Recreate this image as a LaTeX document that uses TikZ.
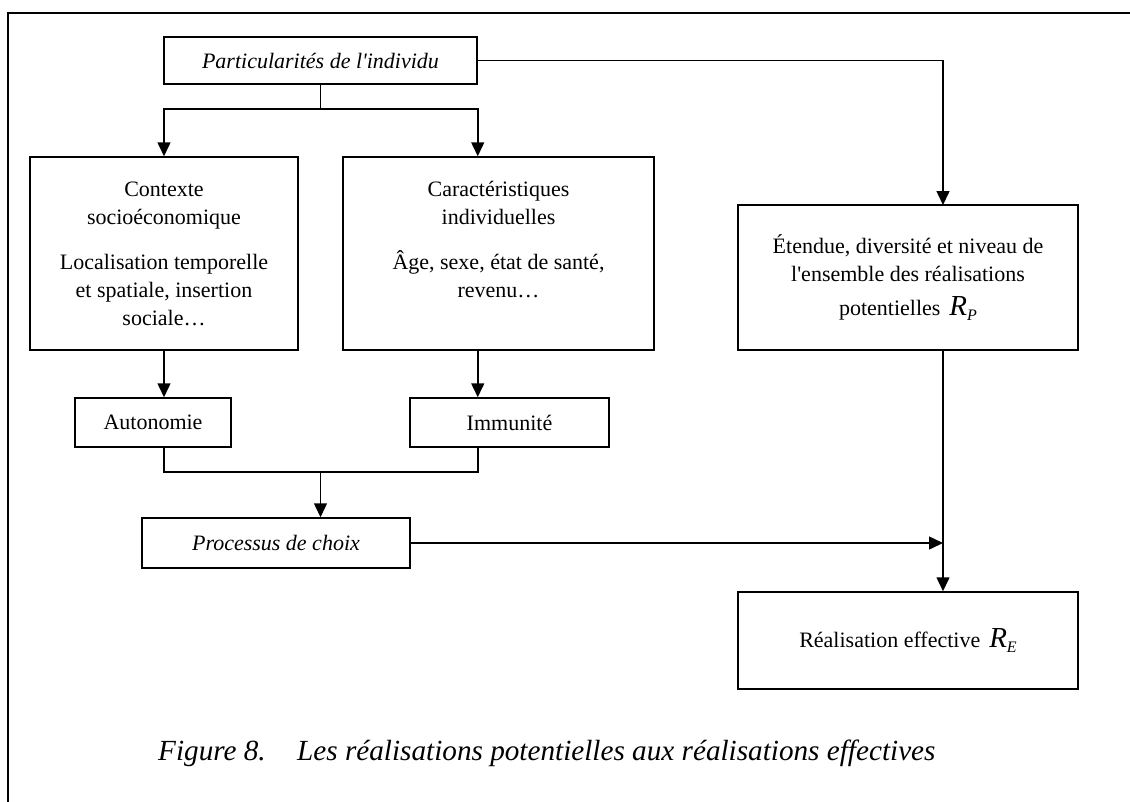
\documentclass[tikz,border=0pt]{standalone}
\usepackage{fontspec}
\setmainfont{Liberation Serif}[Ligatures=TeXOff]
\usetikzlibrary{arrows.meta}
\newcommand{\rvar}[1]{{\fontsize{29}{29}\selectfont\itshape R}\raisebox{-5pt}{\fontsize{16}{16}\selectfont\itshape #1}}
\begin{document}
\begin{tikzpicture}[x=1pt,y=-1pt]
\tikzstyle{box} = [draw,line width=1.5pt,inner sep=0pt,align=center,font=\fontsize{22}{28}\selectfont]
\tikzstyle{arr} = [line width=1.5pt,-{Triangle[width=13pt,length=14pt]}]
\tikzstyle{line} = [line width=1.5pt]
\tikzstyle{capt} = [anchor=base west,inner sep=0pt,font=\fontsize{29.2}{30}\selectfont\itshape]
\useasboundingbox (0,0) rectangle (1130,801);
\draw[line] (1131,13)--(8,13)--(8,802);

\node (top) at (320.5,60.5) [box,minimum width=313,minimum height=47] {\itshape Particularités de l'individu};
\node (ctx) at (164,253.5) [box,minimum width=268,minimum height=193] {Contexte\\socioéconomique\\[17pt]Localisation temporelle\\et spatiale, insertion\\sociale…};
\node (car) at (498.5,253.5) [box,minimum width=311,minimum height=193] {Caractéristiques\\individuelles\\[17pt]Âge, sexe, état de santé,\\revenu…\\\mbox{}};
\node (etn) at (908,277.5) [box,minimum width=340,minimum height=145] {Étendue, diversité et niveau de\\l'ensemble des réalisations\\[6pt]potentielles\hspace{9pt}\rvar{P}};
\node (aut) at (153,422.5) [box,minimum width=156,minimum height=49] {Autonomie};
\node (imm) at (509.5,422.5) [box,minimum width=199,minimum height=49] {Immunité};
\node (proc) at (276,543) [box,minimum width=268,minimum height=50] {\itshape Processus de choix};
\node (res) at (908,640.5) [box,minimum width=340,minimum height=97] {Réalisation effective\hspace{9pt}\rvar{E}};
\node (fig) at (158,760) [capt] {Figure 8.};
\node (cap) at (297,760) [capt] {Les réalisations potentielles aux réalisations effectives};

\coordinate (pin) at (943,205);
\draw[line] (top.south)--++(0,24) coordinate (split);
\draw[arr] (split) -| (ctx.north);
\draw[arr] (split) -| (car.north -| top.east);
\draw[arr] (top.east) -| (pin);
\draw[arr] (ctx.south) -- (ctx.south |- aut.north);
\draw[arr] (car.south -| top.east) -- (top.east |- imm.north);
\draw[line] (ctx.south |- aut.south) -- ++(0,24) coordinate (join) -| (imm.south -| top.east);
\draw[arr] (join -| split) -- (split |- proc.north);
\draw[arr] (proc.east) -- (proc.east -| pin);
\draw[arr] (pin |- etn.south) -- (pin |- res.north);
\end{tikzpicture}
\end{document}
